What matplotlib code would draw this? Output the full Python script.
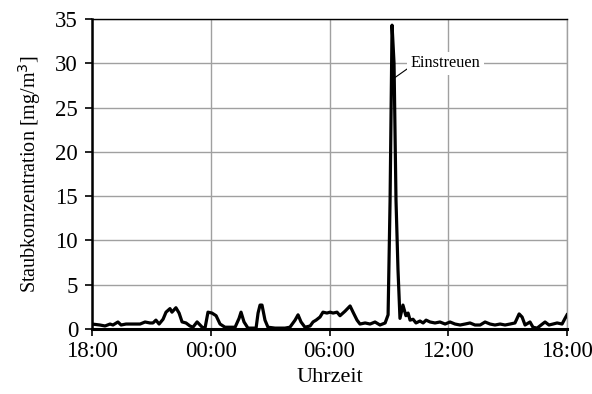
import matplotlib
matplotlib.use("Agg")
import matplotlib.pyplot as plt
from matplotlib.ticker import FixedLocator, FuncFormatter

plt.rcParams['font.family'] = ['Liberation Serif', 'DejaVu Serif']

# hours after 18:00
hours = [0.00, 0.40, 0.66, 0.91, 1.06, 1.31, 1.47, 1.72, 1.92, 2.17, 2.43, 2.68, 2.93, 3.08,
         3.23, 3.39, 3.59, 3.74, 3.94, 4.04, 4.24, 4.40, 4.55, 4.75, 4.95, 5.10, 5.31, 5.46,
         5.61, 5.71, 5.86, 6.06, 6.27, 6.47, 6.72, 6.97, 7.23, 7.43, 7.53, 7.68, 7.88, 8.14,
         8.29, 8.39, 8.49, 8.59, 8.74, 8.89, 9.25, 9.50, 9.75, 10.00, 10.26, 10.41, 10.56,
         10.76, 11.02, 11.17, 11.32, 11.52, 11.67, 11.87, 12.03, 12.18, 12.38, 12.53, 12.78,
         13.04, 13.19, 13.39, 13.54, 13.80, 14.05, 14.30, 14.55, 14.81, 14.96, 15.06, 15.16,
         15.26, 15.36, 15.46, 15.56, 15.71, 15.86, 15.97, 16.07, 16.22, 16.37, 16.57, 16.73,
         16.88, 17.08, 17.33, 17.58, 17.84, 18.09, 18.34, 18.60, 18.85, 19.10, 19.35, 19.61,
         19.86, 20.11, 20.36, 20.62, 20.87, 21.12, 21.37, 21.58, 21.73, 21.88, 22.13, 22.28,
         22.49, 22.69, 22.89, 23.09, 23.29, 23.50, 23.75, 23.90, 24.00]
dust = [0.56, 0.45, 0.34, 0.56, 0.45, 0.79, 0.45, 0.56, 0.56, 0.56, 0.56, 0.79, 0.68, 0.68,
        1.00, 0.56, 1.10, 1.90, 2.30, 1.90, 2.40, 1.80, 0.80, 0.68, 0.34, 0.20, 0.80, 0.45,
        0.10, 0.10, 1.90, 1.80, 1.50, 0.56, 0.20, 0.20, 0.20, 1.20, 1.90, 0.80, 0.10, 0.10,
        0.10, 1.80, 2.70, 2.70, 1.00, 0.20, 0.10, 0.10, 0.10, 0.20, 1.00, 1.60, 0.80,
        0.20, 0.34, 0.80, 1.00, 1.35, 1.90, 1.80, 1.90, 1.80, 1.90, 1.50, 2.00,
        2.60, 1.90, 1.00, 0.56, 0.68, 0.56, 0.79, 0.45, 0.68, 1.60, 14.5, 34.3,
        30.0, 14.5, 6.70, 1.20, 2.70, 1.50, 1.80, 1.00, 1.10, 0.68, 0.90, 0.68,
        1.00, 0.79, 0.68, 0.79, 0.56, 0.79, 0.56, 0.45, 0.56, 0.68, 0.45, 0.45,
        0.79, 0.56, 0.45, 0.56, 0.45, 0.56, 0.68, 1.70, 1.35, 0.45, 0.79, 0.20,
        0.10, 0.45, 0.79, 0.45, 0.56, 0.68, 0.56, 1.20, 1.60]

xticks = [0, 6, 12, 18, 24]
yticks = [0, 5, 10, 15, 20, 25, 30, 35]

fig = plt.figure(figsize=(5.92, 3.94), dpi=100)
ax = fig.add_axes([0.1554, 0.165, 0.8024, 0.7868])

ax.plot(hours, dust, color='black', lw=2.3, zorder=3)
ax.set_xlim(0, 24)
ax.set_ylim(0, 35)
ax.xaxis.set_major_locator(FixedLocator(xticks))
ax.yaxis.set_major_locator(FixedLocator(yticks))
ax.xaxis.set_major_formatter(FuncFormatter(lambda v, p: "%02d:00" % ((18 + int(round(v))) % 24)))
ax.grid(True, color='#a0a0a0', lw=1.0)
ax.set_axisbelow(True)

ax.spines['left'].set_linewidth(1.8)
ax.spines['bottom'].set_linewidth(2.2)
ax.spines['top'].set_linewidth(1.0)
ax.spines['right'].set_color('#a0a0a0')
ax.spines['right'].set_linewidth(1.0)

ax.tick_params(axis='both', labelsize=16.5, direction='out', length=5, width=1.2)
ax.tick_params(axis='x', pad=4)
ax.tick_params(axis='y', pad=5)
ax.set_xlabel("Uhrzeit", fontsize=16, labelpad=4)
ax.set_ylabel("Staubkomzentration [mg/m$^3$]", fontsize=14.5, labelpad=9)

ax.annotate("Einstreuen", xy=(15.25, 28.3), xytext=(16.1, 30.0),
            fontsize=11.7, va='center', ha='left',
            bbox=dict(boxstyle='square,pad=0.2', fc='white', ec='none'),
            arrowprops=dict(arrowstyle='-', color='black', lw=0.8, shrinkA=0, shrinkB=0,
                            relpos=(0.0, 0.3)),
            zorder=4)

fig.savefig("out.png", dpi=100)
